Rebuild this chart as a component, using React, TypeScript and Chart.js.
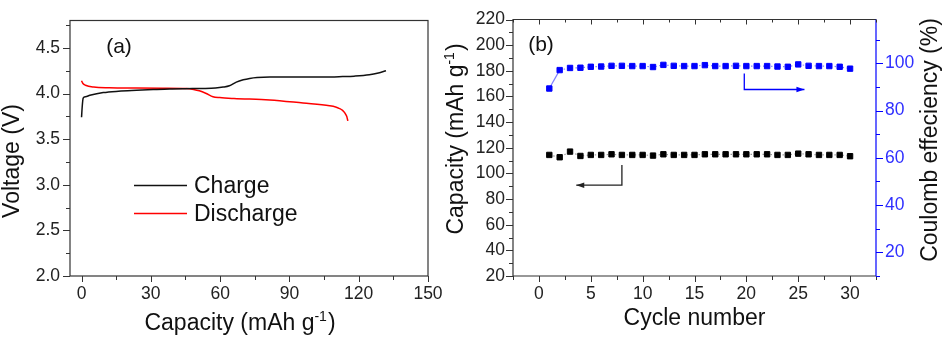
import React, { useEffect, useRef } from "react";
import { Chart, registerables } from "chart.js";
Chart.register(...registerables);

// ---------- Panel (a): voltage profiles ----------
const chargeCapacity = [0, 0.3, 0.7, 1.7, 3.6, 9.4, 16, 23.8, 31, 38.2, 45, 52.6, 58, 61.3, 64, 67, 70, 72.8, 76, 81.5, 95, 105, 113, 118, 124.6, 128.5, 131.8];
const chargeVoltage = [3.74, 3.86, 3.95, 3.965, 3.98, 4.01, 4.025, 4.035, 4.043, 4.05, 4.053, 4.055, 4.06, 4.07, 4.085, 4.125, 4.15, 4.165, 4.175, 4.18, 4.18, 4.18, 4.185, 4.19, 4.205, 4.225, 4.25];
const dischargeCapacity = [0, 0.6, 1.7, 5.3, 12, 23.8, 35, 45.4, 48.5, 51, 54, 56.9, 59.8, 66, 81.5, 95.9, 107.4, 110, 111.7, 113, 113.9, 114.8, 115.3];
const dischargeVoltage = [4.14, 4.11, 4.09, 4.07, 4.063, 4.06, 4.058, 4.055, 4.045, 4.03, 4.0, 3.965, 3.955, 3.945, 3.93, 3.895, 3.865, 3.852, 3.835, 3.815, 3.79, 3.75, 3.70];
const voltageTicksMajor = 0.5;

// ---------- Panel (b): cycling ----------
const cycles = [1, 2, 3, 4, 5, 6, 7, 8, 9, 10, 11, 12, 13, 14, 15, 16, 17, 18, 19, 20, 21, 22, 23, 24, 25, 26, 27, 28, 29, 30];
const cycleCapacity = [114.4, 112.6, 117.0, 113.6, 114.4, 114.4, 114.9, 114.4, 114.4, 114.4, 113.9, 114.9, 114.4, 114.4, 114.4, 114.9, 114.9, 114.9, 114.9, 114.9, 114.9, 114.9, 114.4, 114.4, 115.4, 114.9, 114.4, 114.4, 114.4, 113.4];
const coulombEfficiency = [89.3, 97.1, 98.0, 98.1, 98.5, 98.6, 98.9, 98.9, 98.8, 98.8, 98.4, 99.3, 98.9, 98.8, 98.8, 99.2, 98.8, 98.8, 98.9, 98.8, 98.8, 98.8, 98.6, 98.5, 99.5, 98.9, 98.8, 98.8, 98.5, 97.7];
// arrow guides, in data coordinates: [cycle, value]
const capacityArrow = [[8, 106.5], [8, 90.8], [3.6, 90.8]];
const efficiencyArrow = [[19.8, 95.7], [19.8, 88.9], [25.6, 88.9]];

// axis titles: [text, superscript, text]
const capacityTitle = ["Capacity (mAh g", "-1", ")"];
const voltageTitle = ["Voltage (V)", "", ""];
const cycleTitle = ["Cycle number", "", ""];
const efficiencyTitle = ["Coulomb effeciency (%)", "", ""];

const FONT = "'Liberation Sans', Arial, Helvetica, sans-serif";
const TICK_FONT = { family: FONT, size: 17.5 };
const AXIS = "#333";
const BLUE = "#0000ff";
const BLUE_TEXT = "#3030ff";
const TEXT = "#111";

function isMultiple(v: number, step: number) {
  const r = v / step;
  return Math.abs(r - Math.round(r)) < 1e-6;
}

// draw a title (with optional superscript) centered on (cx, baseline y), rotated by rot
function drawTitle(ctx: any, parts: string[], cx: number, by: number, rot: number) {
  ctx.save();
  ctx.translate(cx, by);
  ctx.rotate(rot);
  ctx.fillStyle = TEXT;
  ctx.textBaseline = "alphabetic";
  ctx.textAlign = "left";
  const main = `23px ${FONT}`;
  const sup = `14px ${FONT}`;
  ctx.font = main;
  const w0 = ctx.measureText(parts[0]).width;
  const w2 = parts[2] ? ctx.measureText(parts[2]).width : 0;
  ctx.font = sup;
  const w1 = parts[1] ? ctx.measureText(parts[1]).width + 1 : 0;
  const total = w0 + w1 + w2;
  let x = -total / 2;
  ctx.font = main;
  ctx.fillText(parts[0], x, 0);
  x += w0;
  if (parts[1]) {
    ctx.font = sup;
    ctx.fillText(parts[1], x, -9);
    x += w1;
  }
  if (parts[2]) {
    ctx.font = main;
    ctx.fillText(parts[2], x, 0);
  }
  ctx.restore();
}

function drawTicks(chart: any, id: string, side: string, color: string, major: number, minor: number) {
  const s = chart.scales[id];
  const a = chart.chartArea;
  const ctx = chart.ctx;
  ctx.save();
  ctx.strokeStyle = color;
  ctx.lineWidth = 1;
  s.ticks.forEach((t: any) => {
    const isMajor = t.label !== "" && t.label != null;
    const len = isMajor ? major : minor;
    const p = Math.round(s.getPixelForValue(t.value)) + 0.5;
    ctx.beginPath();
    if (side === "bottom") { ctx.moveTo(p, a.bottom); ctx.lineTo(p, a.bottom + len); }
    if (side === "top") { ctx.moveTo(p, a.top); ctx.lineTo(p, a.top + len); }
    if (side === "left") { ctx.moveTo(a.left, p); ctx.lineTo(a.left - len, p); }
    if (side === "right") { ctx.moveTo(a.right, p); ctx.lineTo(a.right + len, p); }
    ctx.stroke();
  });
  ctx.restore();
}

function drawArrow(chart: any, pts: number[][], yId: string, color: string) {
  const ctx = chart.ctx;
  const xs = chart.scales.x, ys = chart.scales[yId];
  const px = pts.map(p => [xs.getPixelForValue(p[0]), ys.getPixelForValue(p[1])]);
  ctx.save();
  ctx.strokeStyle = color;
  ctx.fillStyle = color;
  ctx.lineWidth = 1.3;
  ctx.beginPath();
  ctx.moveTo(px[0][0], px[0][1]);
  for (let i = 1; i < px.length; i++) ctx.lineTo(px[i][0], px[i][1]);
  ctx.stroke();
  const [x1, y1] = px[px.length - 2];
  const [x2, y2] = px[px.length - 1];
  const ang = Math.atan2(y2 - y1, x2 - x1);
  const L = 8, W = 2.8;
  ctx.beginPath();
  ctx.moveTo(x2, y2);
  ctx.lineTo(x2 - L * Math.cos(ang) + W * Math.sin(ang), y2 - L * Math.sin(ang) - W * Math.cos(ang));
  ctx.lineTo(x2 - L * Math.cos(ang) - W * Math.sin(ang), y2 - L * Math.sin(ang) + W * Math.cos(ang));
  ctx.closePath();
  ctx.fill();
  ctx.restore();
}

function PanelA() {
  const ref = useRef<HTMLCanvasElement>(null);
  useEffect(() => {
    const plugin = {
      id: "decorA",
      afterDraw(chart: any) {
        const ctx = chart.ctx;
        const a = chart.chartArea;
        ctx.save();
        ctx.strokeStyle = AXIS;
        ctx.lineWidth = 1.2;
        ctx.strokeRect(a.left, a.top, a.right - a.left, a.bottom - a.top);
        ctx.restore();
        drawTicks(chart, "x", "bottom", AXIS, 6, 4);
        drawTicks(chart, "y", "left", AXIS, 7, 4);
        drawTitle(ctx, capacityTitle, a.left + 170, 330, 0);
        drawTitle(ctx, voltageTitle, 18.5, 161, -Math.PI / 2);
        ctx.save();
        ctx.fillStyle = TEXT;
        ctx.font = `21px ${FONT}`;
        ctx.textAlign = "center";
        ctx.textBaseline = "middle";
        ctx.fillText("(a)", a.left + 49, a.top + 27);
        // legend
        ctx.font = `23px ${FONT}`;
        ctx.textAlign = "left";
        chart.data.datasets.forEach((ds: any, i: number) => {
          const y = a.top + 165 + i * 28;
          ctx.strokeStyle = ds.borderColor;
          ctx.lineWidth = 1.5;
          ctx.beginPath();
          ctx.moveTo(a.left + 64, y);
          ctx.lineTo(a.left + 117, y);
          ctx.stroke();
          ctx.fillStyle = TEXT;
          ctx.fillText(ds.label, a.left + 124, y + 1);
        });
        ctx.restore();
      },
    };
    const chart = new Chart(ref.current as HTMLCanvasElement, {
      type: "line",
      data: {
        datasets: [
          {
            label: "Charge",
            data: chargeCapacity.map((c, i) => ({ x: c, y: chargeVoltage[i] })),
            borderColor: "#111",
            borderWidth: 1.5,
            pointRadius: 0,
            cubicInterpolationMode: "monotone",
          },
          {
            label: "Discharge",
            data: dischargeCapacity.map((c, i) => ({ x: c, y: dischargeVoltage[i] })),
            borderColor: "#ff0000",
            borderWidth: 1.5,
            pointRadius: 0,
            cubicInterpolationMode: "monotone",
          },
        ],
      },
      options: {
        animation: false,
        responsive: false,
        events: [],
        layout: { padding: { top: 11, right: 42, left: 0, bottom: 0 } },
        plugins: { legend: { display: false }, tooltip: { enabled: false } },
        scales: {
          x: {
            type: "linear",
            min: -5,
            max: 150,
            afterFit: (s: any) => { s.height = 61; },
            grid: { display: false, drawTicks: false },
            border: { display: false },
            ticks: {
              stepSize: 15,
              includeBounds: false,
              autoSkip: false,
              maxRotation: 0,
              padding: 8,
              color: "#222",
              font: TICK_FONT,
              callback: (v: any) => (isMultiple(Number(v), 30) ? String(v) : ""),
            },
            title: { display: false },
          },
          y: {
            type: "linear",
            min: 2.0,
            max: 4.8,
            afterFit: (s: any) => { s.width = 70; },
            grid: { display: false, drawTicks: false },
            border: { display: false },
            ticks: {
              stepSize: 0.25,
              includeBounds: false,
              autoSkip: false,
              padding: 10,
              color: "#222",
              font: TICK_FONT,
              callback: (v: any) => (isMultiple(Number(v), voltageTicksMajor) ? Number(v).toFixed(1) : ""),
            },
            title: { display: false },
          },
        },
      } as any,
      plugins: [plugin],
    });
    return () => chart.destroy();
  }, []);
  return <canvas ref={ref} width={470} height={337} style={{ position: "absolute", left: 0, top: 0, width: 470, height: 337 }} />;
}

function PanelB() {
  const ref = useRef<HTMLCanvasElement>(null);
  useEffect(() => {
    const plugin = {
      id: "decorB",
      afterDraw(chart: any) {
        const ctx = chart.ctx;
        const a = chart.chartArea;
        ctx.save();
        ctx.lineWidth = 1.2;
        ctx.strokeStyle = AXIS;
        ctx.beginPath();
        ctx.moveTo(a.right, a.top);
        ctx.lineTo(a.left, a.top);
        ctx.lineTo(a.left, a.bottom);
        ctx.lineTo(a.right, a.bottom);
        ctx.stroke();
        ctx.strokeStyle = BLUE;
        ctx.beginPath();
        ctx.moveTo(a.right, a.top);
        ctx.lineTo(a.right, a.bottom);
        ctx.stroke();
        ctx.restore();
        drawTicks(chart, "x", "bottom", AXIS, 6, 4);
        drawTicks(chart, "x", "top", AXIS, 5, 3);
        drawTicks(chart, "y", "left", AXIS, 7, 4);
        drawTicks(chart, "y1", "right", BLUE, 7, 4);
        drawArrow(chart, capacityArrow, "y", "#222");
        drawArrow(chart, efficiencyArrow, "y1", BLUE);
        // titles (canvas starts at page x = 430)
        drawTitle(ctx, cycleTitle, (a.left + a.right) / 2, 325, 0);
        drawTitle(ctx, capacityTitle, 463 - 430, 139, -Math.PI / 2);
        drawTitle(ctx, efficiencyTitle, 937 - 430, 140, -Math.PI / 2);
        ctx.save();
        ctx.fillStyle = TEXT;
        ctx.font = `21px ${FONT}`;
        ctx.textAlign = "center";
        ctx.textBaseline = "middle";
        ctx.fillText("(b)", a.left + 28, a.top + 26);
        ctx.restore();
      },
    };
    const dotted = [1.5, 2.5];
    const chart = new Chart(ref.current as HTMLCanvasElement, {
      type: "line",
      data: {
        datasets: [
          {
            label: "Capacity",
            data: cycles.map((c, i) => ({ x: c, y: cycleCapacity[i] })),
            yAxisID: "y",
            borderColor: "#9a9a9a",
            borderWidth: 1.2,
            borderDash: dotted,
            pointStyle: "rect",
            pointRadius: 3.8,
            pointBackgroundColor: "#000",
            pointBorderColor: "#000",
            pointBorderWidth: 1,
          },
          {
            label: "Coulomb effeciency",
            data: cycles.map((c, i) => ({ x: c, y: coulombEfficiency[i] })),
            yAxisID: "y1",
            borderColor: "#8080ff",
            borderWidth: 1.2,
            borderDash: dotted,
            segment: { borderDash: (ctx: any) => (ctx.p0DataIndex === 0 ? [] : dotted) },
            pointStyle: "rect",
            pointRadius: 3.8,
            pointBackgroundColor: BLUE,
            pointBorderColor: BLUE,
            pointBorderWidth: 1,
          },
        ],
      },
      options: {
        animation: false,
        responsive: false,
        events: [],
        layout: { padding: { top: 9, right: 0, left: 0, bottom: 0 } },
        plugins: { legend: { display: false }, tooltip: { enabled: false } },
        scales: {
          x: {
            type: "linear",
            min: -2.5,
            max: 32.5,
            afterFit: (s: any) => { s.height = 61; },
            grid: { display: false, drawTicks: false },
            border: { display: false },
            ticks: {
              stepSize: 2.5,
              includeBounds: false,
              autoSkip: false,
              maxRotation: 0,
              padding: 8,
              color: "#222",
              font: TICK_FONT,
              callback: (v: any) => {
                const n = Number(v);
                return isMultiple(n, 5) && n >= 0 && n <= 30 ? String(n) : "";
              },
            },
            title: { display: false },
          },
          y: {
            type: "linear",
            position: "left",
            min: 20,
            max: 220,
            afterFit: (s: any) => { s.width = 83; },
            grid: { display: false, drawTicks: false },
            border: { display: false },
            ticks: {
              stepSize: 10,
              includeBounds: false,
              autoSkip: false,
              padding: 8,
              color: "#222",
              font: TICK_FONT,
              callback: (v: any) => (isMultiple(Number(v), 20) ? String(v) : ""),
            },
            title: { display: false },
          },
          y1: {
            type: "linear",
            position: "right",
            min: 10,
            max: 118.5,
            afterFit: (s: any) => { s.width = 70; },
            grid: { display: false, drawTicks: false },
            border: { display: false },
            ticks: {
              stepSize: 10,
              includeBounds: false,
              autoSkip: false,
              padding: 9,
              color: BLUE_TEXT,
              font: TICK_FONT,
              callback: (v: any) => {
                const n = Number(v);
                return isMultiple(n, 20) && n >= 20 && n <= 100 ? String(n) : "";
              },
            },
            title: { display: false },
          },
        },
      } as any,
      plugins: [plugin],
    });
    return () => chart.destroy();
  }, []);
  return <canvas ref={ref} width={516} height={337} style={{ position: "absolute", left: 430, top: 0, width: 516, height: 337 }} />;
}

export default function App() {
  return (
    <div style={{ position: "fixed", left: 0, top: 0, width: 946, height: 337, background: "#fff", overflow: "hidden" }}>
      <PanelA />
      <PanelB />
    </div>
  );
}
